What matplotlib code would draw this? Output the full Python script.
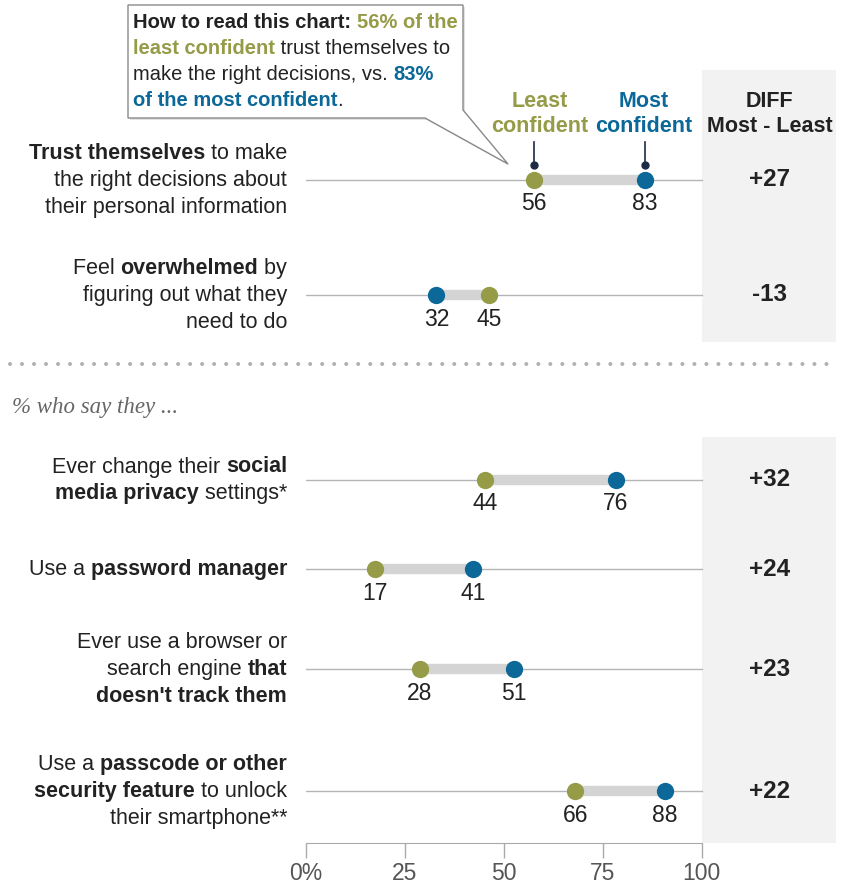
import matplotlib
matplotlib.use('Agg')
import matplotlib.pyplot as plt
from matplotlib.patches import Polygon, Rectangle
from matplotlib.lines import Line2D

W, H, DPI = 843, 884, 100
FONT = 'Liberation Sans'
plt.rcParams['font.family'] = FONT

# ---- data ----
# each row label: list of lines, each line a list of (text, bold)
row_labels = [
    [[("Trust themselves", 1), (" to make", 0)],
     [("the right decisions about", 0)],
     [("their personal information", 0)]],
    [[("Feel ", 0), ("overwhelmed", 1), (" by", 0)],
     [("figuring out what they", 0)],
     [("need to do", 0)]],
    [[("Ever change their ", 0), ("social", 1)],
     [("media privacy", 1), (" settings*", 0)]],
    [[("Use a ", 0), ("password manager", 1)]],
    [[("Ever use a browser or", 0)],
     [("search engine ", 0), ("that", 1)],
     [("doesn't track them", 1)]],
    [[("Use a ", 0), ("passcode or other", 1)],
     [("security feature", 1), (" to unlock", 0)],
     [("their smartphone**", 0)]],
]
least = [56, 45, 44, 17, 28, 66]
most = [83, 32, 76, 41, 51, 88]
tick_values = [0, 25, 50, 75, 100]
tick_labels = ['0%', '25', '50', '75', '100']
subhead = "% who say they ..."

# ---- layout (pixels from top-left) ----
row_y = [180, 295, 480, 569, 669, 791]
AX_X0, AX_X1 = 305.6, 714.0      # where the dots sit
SC_X0, SC_X1 = 305.7, 701.7      # drawn scale
AXIS_Y = 843
PANEL_X0, PANEL_X1 = 702, 836
LABEL_RIGHT = 287
LINE_GAP = 27
SIZE = 15.5
NUM_SIZE = 16.5

OLIVE = '#959b47'
BLUE = '#0b6898'
DARK = '#222222'
NAVY = '#1d2b45'

fig = plt.figure(figsize=(W / DPI, H / DPI), dpi=DPI)
renderer = fig.canvas.get_renderer()


def fx(x):
    return x / W


def fy(y):
    return 1 - y / H


def seg_width(s, weight, size):
    t = fig.text(0, 0, s + '|', fontsize=size, fontweight=weight)
    w = t.get_window_extent(renderer).width
    t.set_text('|')
    w -= t.get_window_extent(renderer).width
    t.remove()
    return w


def rich_line(x, y, segs, size, ha='left', zorder=3):
    # segs: (text, bold, color); y is the baseline in pixels from top
    widths = [seg_width(s, 'bold' if b else 'normal', size) for s, b, c in segs]
    x0 = x - sum(widths) if ha == 'right' else x
    for (s, b, c), w in zip(segs, widths):
        fig.text(fx(x0), fy(y), s, fontsize=size, fontweight='bold' if b else 'normal',
                 color=c, ha='left', va='baseline', zorder=zorder)
        x0 += w


# gray DIFF panels
for top, bot in [(70, 342), (437, AXIS_Y)]:
    fig.add_artist(Rectangle((fx(PANEL_X0), fy(bot)), fx(PANEL_X1) - fx(PANEL_X0),
                             fy(top) - fy(bot), transform=fig.transFigure,
                             facecolor='#f2f2f2', edgecolor='none', zorder=-1))

# main dot axes (y in pixels from top)
ax = fig.add_axes([fx(AX_X0), fy(AXIS_Y), fx(AX_X1) - fx(AX_X0), 1 - fy(AXIS_Y)])
ax.set_xlim(0, 100)
ax.set_ylim(AXIS_Y, 0)
ax.axis('off')
ax.patch.set_alpha(0)

line_end = (PANEL_X0 - AX_X0) / (AX_X1 - AX_X0)
for y in row_y:
    ax.axhline(y, xmin=0, xmax=line_end, color='#b5b5b5', lw=1, zorder=1)
ax.hlines(row_y, least, most, color='#d4d4d4', lw=7.5, zorder=2)
ax.scatter(least, row_y, s=155, color=OLIVE, linewidths=0, zorder=3, clip_on=False)
ax.scatter(most, row_y, s=155, color=BLUE, linewidths=0, zorder=3, clip_on=False)
for l, m, y in zip(least, most, row_y):
    ax.text(l, y + 24, str(l), ha='center', va='center', fontsize=NUM_SIZE, color=DARK)
    ax.text(m, y + 24, str(m), ha='center', va='center', fontsize=NUM_SIZE, color=DARK)

# leader marks for the first row
for v in (least[0], most[0]):
    ax.plot([v, v], [142, 164], color=NAVY, lw=1.2, zorder=3)
    ax.plot([v], [165], 'o', color=NAVY, ms=5, zorder=3)

# drawn scale
sc = fig.add_axes([fx(SC_X0), fy(AXIS_Y), fx(SC_X1) - fx(SC_X0), 0.0001])
sc.set_xlim(0, 100)
sc.patch.set_alpha(0)
for side in ['top', 'left', 'right']:
    sc.spines[side].set_visible(False)
sc.spines['bottom'].set_color('#aaaaaa')
sc.set_yticks([])
sc.set_xticks(tick_values)
sc.set_xticklabels(tick_labels)
sc.tick_params(axis='x', length=10.8, width=1, color='#aaaaaa', labelcolor='#555555',
               labelsize=NUM_SIZE, pad=3)

# row labels and diff values
for segs_lines, y, l, m in zip(row_labels, row_y, least, most):
    n = len(segs_lines)
    for j, line in enumerate(segs_lines):
        base = y + (j - (n - 1) / 2) * LINE_GAP + 6
        rich_line(LABEL_RIGHT, base, [(s, b, DARK) for s, b in line], SIZE, ha='right')
    fig.text(fx(769.5), fy(y), '%+d' % (m - l), fontsize=17.5, fontweight='bold',
             color=DARK, ha='center', va='center')

# column headers
for x, txt, c in [(540, 'Least\nconfident', OLIVE), (644, 'Most\nconfident', BLUE),
                  (769.5, 'DIFF\nMost - Least', DARK)]:
    fig.text(fx(x), fy(114), txt, fontsize=15.5, fontweight='bold', color=c,
             ha='center', va='center', linespacing=1.25)

# dotted separator
fig.add_artist(Line2D([fx(10), fx(836)], [fy(364), fy(364)], transform=fig.transFigure,
                      color='#b0b0b0', lw=2.9, linestyle=(0, (0.001, 2.98)),
                      dash_capstyle='round'))

fig.text(fx(12), fy(408), subhead, fontsize=16.5, fontstyle='italic', color='#666666',
         family='Liberation Serif', ha='left', va='center')

# callout box
pts = [(128, 5), (463, 5), (463, 110), (508, 164), (425, 118), (128, 118)]
shadow = Polygon([(fx(x + 2), fy(y + 2)) for x, y in pts], closed=True,
                 transform=fig.transFigure, facecolor='#e2e2e2', edgecolor='none', zorder=4)
box = Polygon([(fx(x), fy(y)) for x, y in pts], closed=True, transform=fig.transFigure,
              facecolor='white', edgecolor='#8a8a8a', lw=1, zorder=5)
fig.add_artist(shadow)
fig.add_artist(box)

note = [
    [("How to read this chart: ", 1, DARK), ("56% of the", 1, OLIVE)],
    [("least confident", 1, OLIVE), (" trust themselves to", 0, DARK)],
    [("make the right decisions, vs. ", 0, DARK), ("83%", 1, BLUE)],
    [("of the most confident", 1, BLUE), (".", 0, DARK)],
]
for j, line in enumerate(note):
    rich_line(133, 28.5 + j * 25.7, line, 14.5, zorder=6)

fig.savefig('out.png', dpi=DPI)
